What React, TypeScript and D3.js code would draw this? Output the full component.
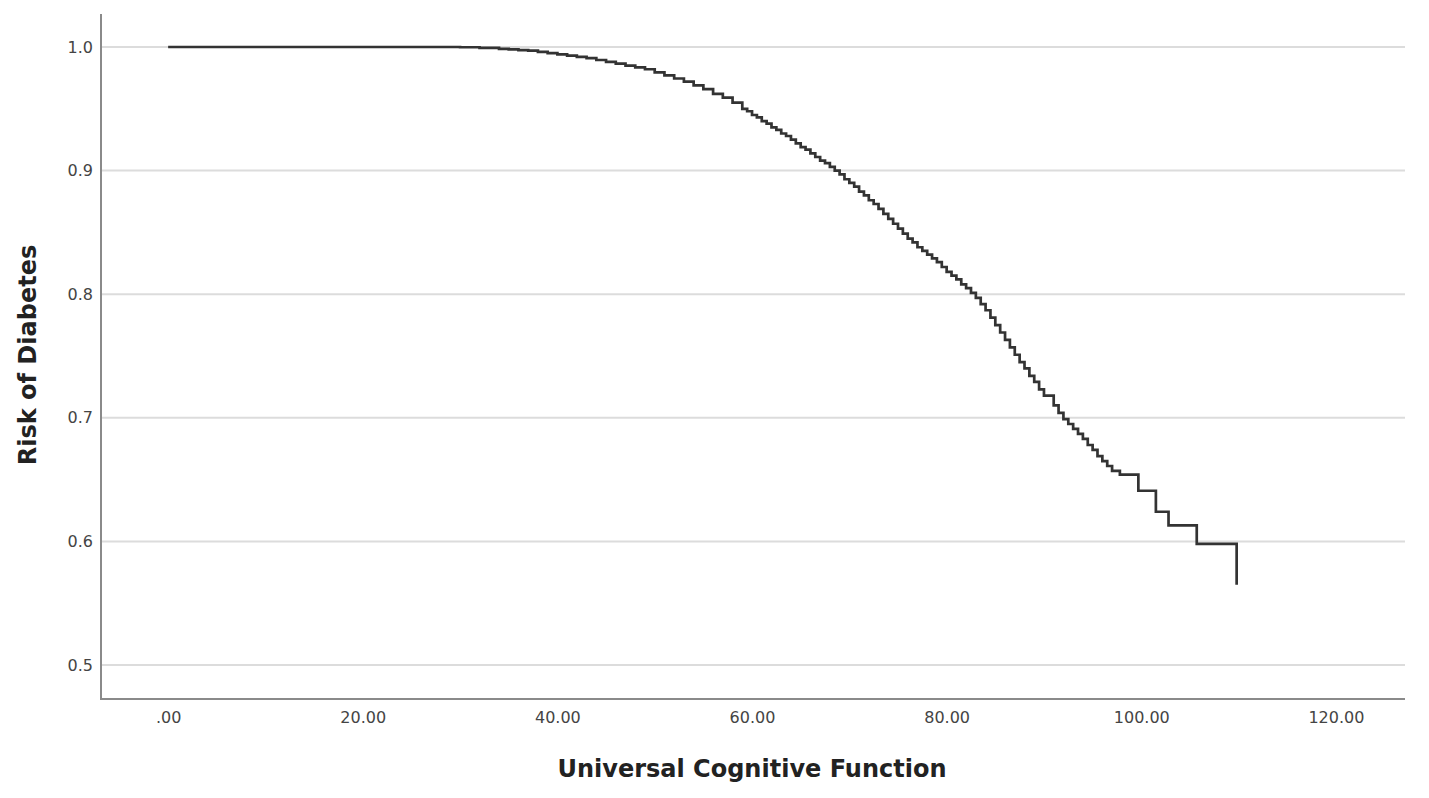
import * as d3 from "d3";
import React, { useRef, useEffect } from "react";

// survival curve (cognitive score -> risk)
const scores = [
  0, 30, 32, 34, 35, 36, 37, 38, 39, 40, 41, 42, 43, 44, 45, 46, 47, 48, 49, 50,
  51, 52, 53, 54, 55, 56, 57, 58, 59, 59.5,
  60, 60.5, 61, 61.5, 62, 62.5, 63, 63.5, 64, 64.5, 65, 65.5, 66, 66.5, 67, 67.5,
  68, 68.5, 69, 69.5, 70, 70.5, 71, 71.5, 72, 72.5, 73, 73.5, 74, 74.5, 75, 75.5,
  76, 76.5, 77, 77.5, 78, 78.5, 79, 79.5, 80, 80.5, 81, 81.5, 82, 82.5, 83, 83.5,
  84, 84.5, 85, 85.5, 86, 86.5, 87, 87.5, 88, 88.5, 89, 89.5, 90, 91, 91.5, 92,
  92.5, 93, 93.5, 94, 94.5, 95, 95.5, 96, 96.5, 97, 97.8, 99.7, 101.5, 102.8,
  105.7, 109.8,
];
const risk = [
  1.0, 0.9998, 0.9993, 0.9985, 0.998, 0.9975, 0.997, 0.996, 0.995, 0.994, 0.993, 0.992, 0.991, 0.9895, 0.988, 0.9865, 0.985, 0.9835, 0.982, 0.9795,
  0.977, 0.9745, 0.972, 0.969, 0.966, 0.962, 0.959, 0.955, 0.95, 0.948,
  0.945, 0.943, 0.94, 0.938, 0.935, 0.933, 0.93, 0.928, 0.925, 0.922, 0.919, 0.917, 0.914, 0.911, 0.908, 0.906,
  0.903, 0.9, 0.897, 0.893, 0.89, 0.887, 0.883, 0.88, 0.876, 0.873, 0.869, 0.865, 0.861, 0.857, 0.853, 0.849,
  0.845, 0.842, 0.838, 0.835, 0.832, 0.829, 0.826, 0.822, 0.818, 0.815, 0.812, 0.808, 0.805, 0.801, 0.797, 0.792,
  0.787, 0.781, 0.775, 0.769, 0.763, 0.757, 0.751, 0.745, 0.74, 0.734, 0.729, 0.723, 0.718, 0.71, 0.704, 0.699,
  0.695, 0.691, 0.687, 0.683, 0.678, 0.674, 0.669, 0.665, 0.661, 0.657, 0.654, 0.641, 0.624, 0.613,
  0.598, 0.565,
];
const xTicks = [0, 20, 40, 60, 80, 100, 120];
const yTicks = [0.5, 0.6, 0.7, 0.8, 0.9, 1.0];

const W = 1429;
const H = 798;
const left = 101;
const right = 1405;
const top = 14;
const bottom = 699;

export default function App() {
  const ref = useRef<SVGSVGElement>(null);

  useEffect(() => {
    const svg = d3.select(ref.current);
    svg.selectAll("*").remove();

    const x = d3.scaleLinear().domain([-6.9, 127.1]).range([left, right]);
    const y = d3.scaleLinear().domain([0.4725, 1.0267]).range([bottom, top]);

    // gridlines
    svg
      .append("g")
      .selectAll("line")
      .data(yTicks)
      .join("line")
      .attr("x1", left)
      .attr("x2", right)
      .attr("y1", (d) => y(d))
      .attr("y2", (d) => y(d))
      .attr("stroke", "#dcdcdc")
      .attr("stroke-width", 2);

    // axes
    const yAxis = svg
      .append("g")
      .attr("transform", `translate(${left},0)`)
      .call(d3.axisLeft(y).tickValues(yTicks).tickFormat(d3.format(".1f")).tickSize(0).tickPadding(8));
    const xAxis = svg
      .append("g")
      .attr("transform", `translate(0,${bottom})`)
      .call(
        d3
          .axisBottom(x)
          .tickValues(xTicks)
          .tickFormat((d) => (d === 0 ? ".00" : d3.format(".2f")(d as number)))
          .tickSize(0)
          .tickPadding(13)
      );
    [xAxis, yAxis].forEach((g) => {
      g.select(".domain").remove();
      g.selectAll("text")
        .attr("font-family", "'DejaVu Sans', sans-serif")
        .attr("font-size", 16)
        .attr("fill", "#444");
    });
    svg
      .append("path")
      .attr("d", `M${left},${top}V${bottom}H${right}`)
      .attr("fill", "none")
      .attr("stroke", "#8a8a8a")
      .attr("stroke-width", 2);

    // step curve
    const pts = scores.map((s, i) => [s, risk[i]] as [number, number]);
    svg
      .append("path")
      .datum(pts)
      .attr("fill", "none")
      .attr("stroke", "#333")
      .attr("stroke-width", 2.7)
      .attr(
        "d",
        d3
          .line<[number, number]>()
          .x((d) => x(d[0]))
          .y((d) => y(d[1]))
          .curve(d3.curveStepAfter)
      );

    // titles
    svg
      .append("text")
      .attr("x", 752)
      .attr("y", 777)
      .attr("text-anchor", "middle")
      .attr("font-family", "'DejaVu Sans', sans-serif")
      .attr("font-weight", "bold")
      .attr("font-size", 24)
      .attr("fill", "#222")
      .text("Universal Cognitive Function");
    svg
      .append("text")
      .attr("transform", "translate(36,355) rotate(-90)")
      .attr("text-anchor", "middle")
      .attr("font-family", "'DejaVu Sans', sans-serif")
      .attr("font-weight", "bold")
      .attr("font-size", 24)
      .attr("fill", "#222")
      .text("Risk of Diabetes");
  }, []);

  return (
    <svg
      ref={ref}
      width={W}
      height={H}
      style={{ position: "absolute", left: 0, top: 0, background: "#fff" }}
    />
  );
}
